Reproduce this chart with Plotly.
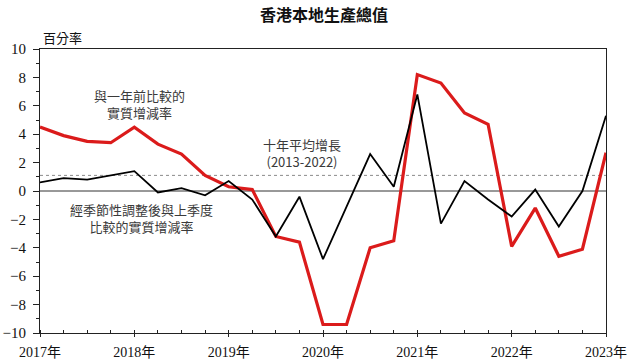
import plotly.graph_objects as go

quarters = [f"{y}Q{q}" for y in range(2017, 2023) for q in range(1, 5)] + ["2023Q1"]
yoy = [4.5, 3.9, 3.5, 3.4, 4.5, 3.3, 2.6, 1.1, 0.3, 0.1, -3.2, -3.6,
       -9.4, -9.4, -4.0, -3.5, 8.2, 7.6, 5.5, 4.7, -3.9, -1.2, -4.6, -4.1, 2.7]
qoq = [0.6, 0.9, 0.8, 1.1, 1.4, -0.1, 0.2, -0.3, 0.7, -0.6, -3.2, -0.4,
       -4.8, -1.1, 2.6, 0.3, 6.8, -2.3, 0.7, -0.6, -1.8, 0.1, -2.5, 0.0, 5.3]
avg10 = 1.1
year_labels = ["2017年", "2018年", "2019年", "2020年", "2021年", "2022年", "2023年"]

x = list(range(len(quarters)))
serif = "Liberation Serif, Noto Sans CJK TC, serif"
cjk = "Noto Sans CJK TC, Liberation Serif, serif"

W, H = 632, 362

fig = go.Figure()
fig.add_trace(go.Scatter(x=[x[0], x[-1]], y=[avg10, avg10], mode="lines",
                         line=dict(color="#8a8a8a", width=1, dash="dot"), hoverinfo="skip"))
fig.add_trace(go.Scatter(x=[x[0], x[-1]], y=[0, 0], mode="lines",
                         line=dict(color="#333333", width=1), hoverinfo="skip"))
fig.add_trace(go.Scatter(x=x, y=yoy, mode="lines", line=dict(color="#db1b1b", width=3.2)))
fig.add_trace(go.Scatter(x=x, y=qoq, mode="lines", line=dict(color="#000000", width=1.8)))

fig.update_layout(
    width=W, height=H, showlegend=False,
    margin=dict(l=40, r=26, t=49, b=29),
    plot_bgcolor="white", paper_bgcolor="white",
    title=dict(text="<b>香港本地生產總值</b>", x=324 / W, xanchor="center",
               y=1 - 15 / H, yanchor="middle",
               font=dict(family=cjk, size=16, color="#111")),
    xaxis=dict(range=[0, 24], tickvals=[0, 4, 8, 12, 16, 20, 24], ticktext=year_labels,
               automargin=False, ticklabelstandoff=3,
               showgrid=False, zeroline=False, showline=True, linecolor="#222", linewidth=1,
               mirror=True, ticks="outside", ticklen=3, tickcolor="#222",
               minor=dict(dtick=1, tick0=0, ticks="inside", ticklen=3, tickcolor="#222"),
               tickfont=dict(family=serif, size=14, color="#111")),
    yaxis=dict(range=[-10, 10], dtick=2, showgrid=False, zeroline=False, showline=True,
               automargin=False, ticklabelstandoff=4,
               linecolor="#222", linewidth=1, mirror=True, ticks="outside", ticklen=6,
               tickcolor="#222",
               minor=dict(dtick=1, ticks="outside", ticklen=3, tickcolor="#222"),
               tickfont=dict(family=serif, size=15, color="#111")),
)

ann_font = dict(family=cjk, size=13, color="#3a3a3a")
fig.add_annotation(text="百分率", xref="paper", yref="paper", x=0.0, y=1.0, xanchor="left",
                   yanchor="bottom", showarrow=False, yshift=0, xshift=1,
                   font=dict(family=cjk, size=13, color="#111"))
fig.add_annotation(text="與一年前比較的<br>實質增減率", x=4.2, y=6.1, showarrow=False, font=ann_font)
fig.add_annotation(text="十年平均增長<br>(2013-2022)", x=11.1, y=2.7, showarrow=False, font=ann_font)
fig.add_annotation(text="經季節性調整後與上季度<br>比較的實質增減率", x=4.3, y=-1.9, showarrow=False, font=ann_font)

fig.write_html("out.html", config={"displayModeBar": False},
               post_script="document.body.style.margin='0';document.body.style.overflow='hidden';")
